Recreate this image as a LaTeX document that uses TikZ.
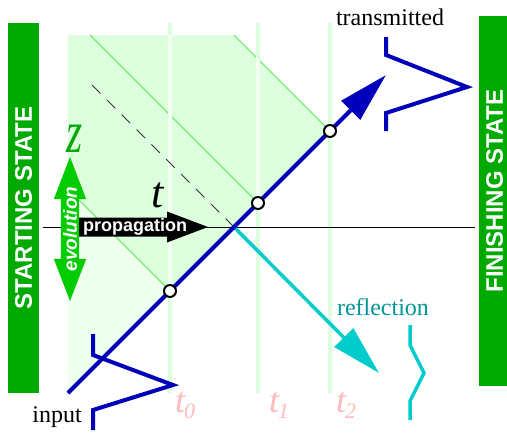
\documentclass[tikz,border=0pt]{standalone}
\usepackage{fontspec}
\setmainfont{Liberation Serif}
\setsansfont{Liberation Sans}
\usepackage{tikz}
\usetikzlibrary{arrows.meta,shapes.arrows}

\definecolor{barGreen}{RGB}{0,170,0}
\definecolor{evoGreen}{RGB}{0,204,0}
\definecolor{zoneDark}{RGB}{221,255,221}
\definecolor{zoneLight}{RGB}{238,255,238}
\definecolor{diagGreen}{RGB}{80,240,80}
\definecolor{waveBlue}{RGB}{0,0,187}
\definecolor{reflCyan}{RGB}{0,204,204}
\definecolor{reflText}{RGB}{0,150,150}
\definecolor{timePink}{RGB}{255,187,187}
\definecolor{timeLine}{RGB}{221,255,221}
\definecolor{timeLineIn}{RGB}{242,255,242}

\newcommand{\fsz}[1]{\fontsize{#1}{#1}\selectfont}

\begin{document}
\begin{tikzpicture}[x=1pt, y=-1pt,
    statebar/.style={fill=barGreen, minimum width=370pt, minimum height=31pt, inner sep=0pt, rotate=90},
    barletters/.style={text=white, font=\sffamily\bfseries\fsz{24}},
    lbl/.style={font=\fsz{24}, anchor=base, inner sep=0pt},
    tlbl/.style={font=\itshape\fsz{36}, text=timePink, anchor=base west, inner sep=0pt},
    dot/.style={circle, draw=black, line width=2pt, fill=white, minimum size=12pt, inner sep=0pt},
    tline/.style={line width=4pt},
    diag/.style={diagGreen, line width=1pt},
    pulse/.style={line width=4pt},
    arr/.style={-{Triangle[length=50pt, width=26pt]}}
]
\useasboundingbox (0,0) rectangle (507,434);

% green zone
\fill[zoneDark] (68,35) -- (234,35) -- (330,131) -- (170,291) -- (68,189) -- cycle;
\fill[zoneLight] (68,189) -- (170,291) -- (68,393) -- cycle;
\draw[diag] (68,189) -- (170,291);
\draw[diag] (90,35) -- (258,203);
\draw[diag] (234,35) -- (330,131);

% time lines
\foreach \x/\lx/\n in {170/175/0, 258/269/1, 330/336/2} {
    \draw[tline, timeLine] (\x,23) -- (\x,393);
    \node[tlbl] (t\n) at (\lx,412) {t\kern-1pt\raisebox{-6pt}{\fsz{22}\n}};
}
\begin{scope}
    \clip (68,35) -- (234,35) -- (330,131) -- (68,393) -- cycle;
    \foreach \x in {170,258,330}
        \draw[tline, timeLineIn] (\x,23) -- (\x,393);
\end{scope}

\coordinate (axL) at (43,227);
\coordinate (axR) at (475,227);
\coordinate (hit) at (234,227);
\coordinate (dashStart) at (92,85);
\draw[line width=0.7pt] (axL) -- (axR);
\draw[black!80, line width=0.8pt, dash pattern=on 12pt off 9pt] (dashStart) -- (hit);

% propagation arrow
\fill (79,217.5) -- (167,217.5) -- (167,211.5) -- (208,227) -- (167,242.5) -- (167,236.5) -- (79,236.5) -- cycle;
\node[text=white, font=\sffamily\bfseries\fsz{18}, inner sep=0pt] (prop) at (135,227) {propagation};
\node[double arrow, fill=evoGreen, text=white, font=\sffamily\bfseries\itshape\fsz{19},
      minimum height=144pt, inner xsep=1pt, inner ysep=2pt, rotate=90,
      double arrow head extend=7pt, double arrow tip angle=42] (evo) at (70,229) {evolution};

\node[font=\itshape\fsz{46}, text=barGreen, anchor=base, inner sep=0pt] (zlbl) at (75,152) {\scalebox{0.9}[1.3]{z}};
\node[font=\itshape\fsz{44}, anchor=base, inner sep=0pt] (tlbl) at (158,207) {t};

% rays
\coordinate (inStart) at (68,393);
\coordinate (outTip) at (386,75);
\coordinate (reflTip) at (379,373);
\draw[reflCyan, line width=3.5pt, arr] (hit) -- (reflTip);
\draw[waveBlue, line width=4pt, arr] (inStart) -- (outTip);
\node[dot] (c0) at (170,291) {};
\node[dot] (c1) at (258,203) {};
\node[dot] (c2) at (330,131) {};

% pulses
\draw[pulse, waveBlue] (93,334) -- (93,355) -- (173,385) -- (93,410) -- (93,430);
\draw[pulse, waveBlue] (386,37) -- (386,55) -- (467,87) -- (386,113) -- (386,131);
\draw[pulse, reflCyan, line width=3.5pt] (410,325) -- (410,345) -- (424,373) -- (410,401) -- (410,420);

\node[lbl] (transLbl) at (390,25) {transmitted};
\node[lbl] (inLbl) at (57,422) {input};
\node[lbl, text=reflText] (reflLbl) at (383,315) {reflection};

% state bars
\node[statebar, barletters] (start) at (23.5,208) {STARTING STATE};
\node[statebar] (finish) at (494.5,201) {};
\node[barletters, rotate=90] (finishLbl) at (494.5,191) {FINISHING STATE};
\end{tikzpicture}
\end{document}
